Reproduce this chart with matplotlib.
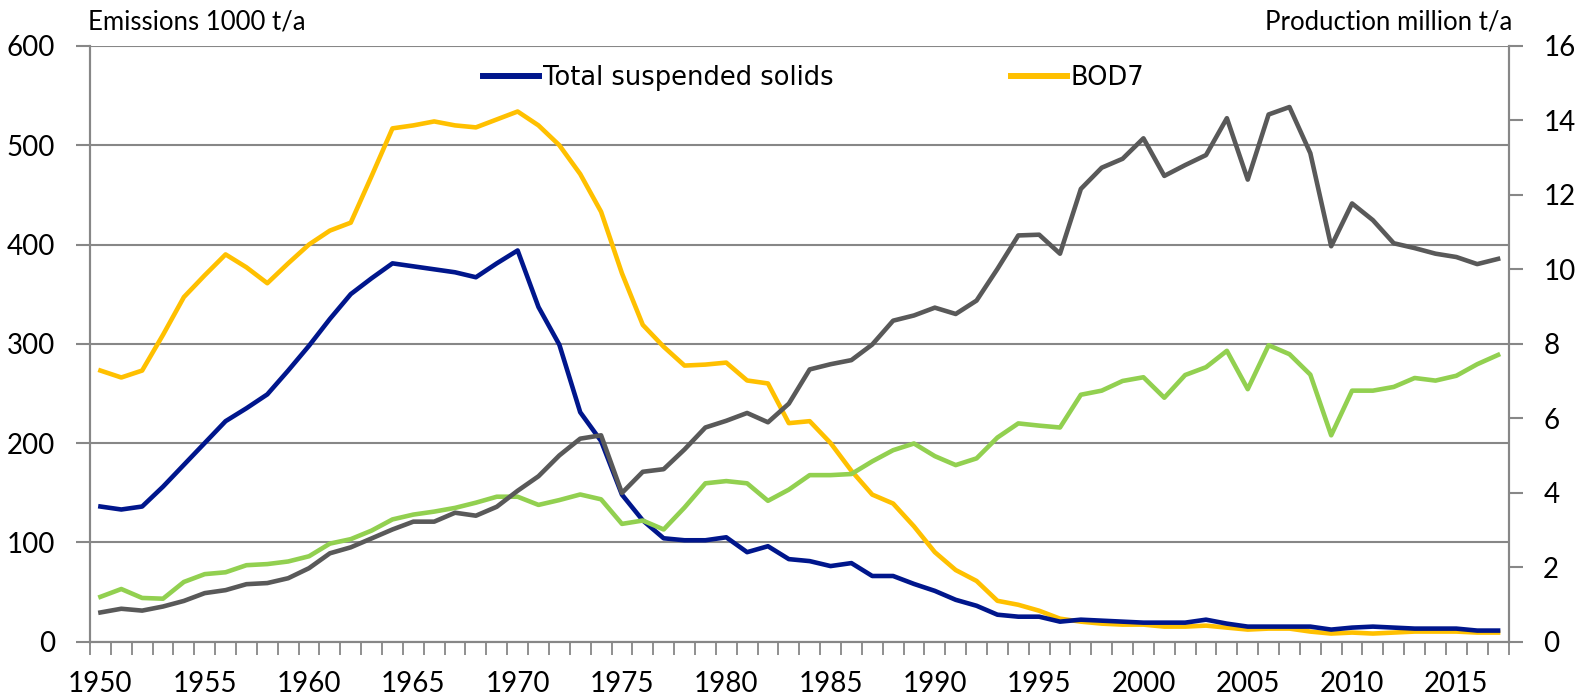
import numpy as np
import matplotlib
matplotlib.use("Agg")
import matplotlib.pyplot as plt
from matplotlib.ticker import MultipleLocator, FixedLocator

plt.rcParams['font.family'] = ['Lato', 'DejaVu Sans']

years = list(range(1950, 2018))

# emissions, 1000 t/a (left axis)
tss = [136, 133, 136, 156, 178, 200, 222, 235, 249, 273,
       298, 325, 350, 366, 381, 378, 375, 372, 367, 381,
       394, 337, 299, 231, 202, 148, 122, 104, 102, 102,
       105, 90, 96, 83, 81, 76, 79, 66, 66, 58,
       51, 42, 36, 27, 25, 25, 20, 22, 21, 20,
       19, 19, 19, 22, 18, 15, 15, 15, 15, 12,
       14, 15, 14, 13, 13, 13, 11, 11]
bod7 = [273, 266, 273, 309, 347, 369, 390, 377, 361, 381,
        400, 414, 422, 469, 517, 520, 524, 520, 518, 526,
        534, 520, 500, 471, 433, 371, 319, 297, 278, 279,
        281, 263, 260, 220, 222, 200, 172, 148, 139, 116,
        90, 72, 61, 41, 37, 31, 23, 20, 18, 17,
        17, 15, 15, 16, 14, 12, 13, 13, 10, 8,
        9, 8, 9, 10, 10, 10, 9, 9]

# production, million t/a (right axis)
prod_grey = [0.78, 0.88, 0.83, 0.94, 1.09, 1.30, 1.38, 1.54, 1.57, 1.70,
             1.97, 2.37, 2.53, 2.77, 3.01, 3.22, 3.22, 3.46, 3.38, 3.62,
             4.05, 4.44, 5.00, 5.45, 5.54, 3.99, 4.56, 4.63, 5.16, 5.75,
             5.93, 6.14, 5.89, 6.39, 7.31, 7.45, 7.56, 7.98, 8.62, 8.76,
             8.97, 8.80, 9.16, 10.01, 10.91, 10.93, 10.42, 12.16, 12.73, 12.97,
             13.52, 12.51, 12.80, 13.07, 14.06, 12.41, 14.16, 14.36, 13.12, 10.62,
             11.77, 11.32, 10.70, 10.57, 10.42, 10.33, 10.14, 10.28]
prod_green = [1.20, 1.41, 1.17, 1.15, 1.60, 1.81, 1.86, 2.05, 2.08, 2.15,
              2.29, 2.63, 2.75, 2.98, 3.28, 3.41, 3.49, 3.59, 3.73, 3.89,
              3.89, 3.67, 3.80, 3.95, 3.82, 3.16, 3.25, 3.01, 3.60, 4.25,
              4.31, 4.25, 3.78, 4.08, 4.47, 4.47, 4.50, 4.84, 5.14, 5.32,
              4.98, 4.74, 4.92, 5.48, 5.86, 5.80, 5.75, 6.63, 6.74, 7.00,
              7.10, 6.55, 7.16, 7.37, 7.81, 6.78, 7.96, 7.72, 7.17, 5.54,
              6.74, 6.74, 6.84, 7.08, 7.01, 7.14, 7.45, 7.70]

axcol = "#878787"
lw = 3.3

fig = plt.figure(figsize=(15.81, 6.97), dpi=100)
ax = fig.add_axes([90/1581, 55.5/697, (1508.5-90)/1581, (641.5-46)/697])
ax2 = ax.twinx()

ax.plot(years, bod7, color="#FFC000", lw=lw, label="BOD7", zorder=3)
ax.plot(years, tss, color="#00168C", lw=lw, label="Total suspended solids", zorder=4)
ax2.plot(years, prod_green, color="#92D050", lw=lw)
ax2.plot(years, prod_grey, color="#595959", lw=lw)

ax.set_xlim(1949.5, 2017.5)
ax.set_ylim(0, 600)
ax2.set_ylim(0, 16)

ax.yaxis.set_major_locator(MultipleLocator(100))
ax2.yaxis.set_major_locator(MultipleLocator(2))
ax.xaxis.set_major_locator(FixedLocator(list(range(1950, 2016, 5))))
ax.xaxis.set_minor_locator(FixedLocator(np.arange(1949.5, 2018, 1)))

ax.grid(axis="y", color=axcol, lw=1.5)
ax.set_axisbelow(True)

for a in (ax, ax2):
    for s in a.spines.values():
        s.set_color(axcol)
        s.set_linewidth(1.5)
    a.spines["top"].set_visible(False)

ax.tick_params(axis="x", which="major", length=0, pad=21, labelsize=20)
ax.tick_params(axis="x", which="minor", length=9, width=1.3, color=axcol, direction="out")
ax.tick_params(axis="y", length=10, width=1.5, color=axcol, pad=15, labelsize=20)
ax2.tick_params(axis="y", length=10, width=1.5, color=axcol, pad=15, labelsize=20)

fig.text(88/1581, 1 - 22/697, "Emissions 1000 t/a", fontsize=18.5, va="center", ha="left")
fig.text(1512/1581, 1 - 22/697, "Production million t/a", fontsize=18.5, va="center", ha="right")

h, l = ax.get_legend_handles_labels()
leg = ax.legend(h[::-1], l[::-1], ncol=2, frameon=False, loc="center left",
                bbox_to_anchor=(483/1581, 1 - 78/697), bbox_transform=fig.transFigure,
                handlelength=2.18, handletextpad=0.15, columnspacing=6.9,
                borderpad=0, borderaxespad=0, prop={"family": "DejaVu Sans", "size": 18.5})
for line in leg.get_lines():
    line.set_linewidth(4.3)

fig.savefig("out.png", dpi=100)
